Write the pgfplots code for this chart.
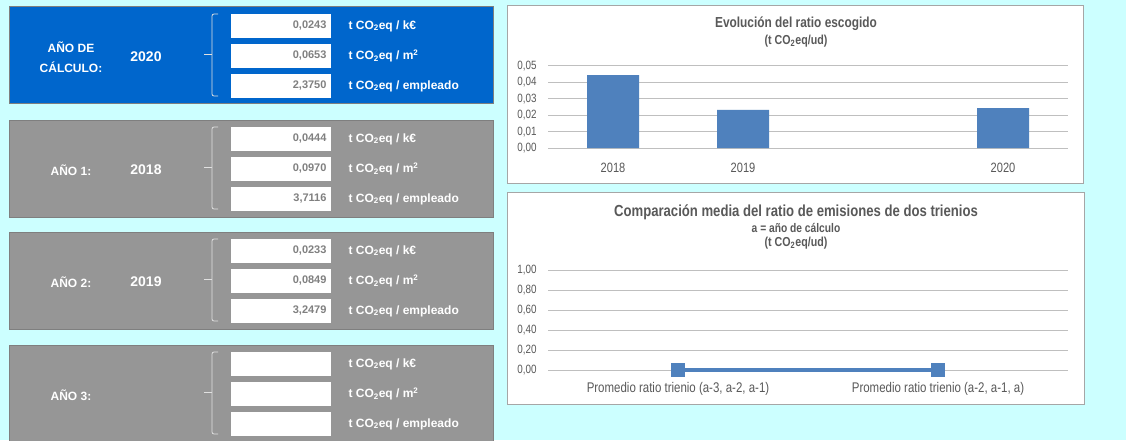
\documentclass[border=0pt]{standalone}
\usepackage{fontspec}
\setmainfont{Liberation Sans}
\newfontfamily\narrow{Liberation Sans}[FakeStretch=0.82]
\usepackage{pgfplots}
\pgfplotsset{compat=1.18}
\definecolor{bgc}{HTML}{CCFFFF}
\definecolor{bluep}{HTML}{0066CC}
\definecolor{grayp}{HTML}{969696}
\definecolor{pborder}{HTML}{7F7F7F}
\definecolor{numc}{HTML}{808080}
\definecolor{txtc}{HTML}{595959}
\definecolor{gridc}{HTML}{BFBFBF}
\definecolor{cborder}{HTML}{A6A6A6}
\definecolor{barc}{HTML}{4F81BD}
\definecolor{bracec}{HTML}{E0E0E0}
\newcommand{\units}[1]{t CO\textsubscript{2}eq / #1}
% row: y-top, value, unit
\newcommand{\prow}[3]{%
  \fill[white] (231,#1) rectangle (331,{#1+24});
  \node[anchor=east, text=numc, font=\bfseries\fontsize{11}{13}\selectfont] at (330,{#1+12}) {#2};
  \node[anchor=west, text=white, font=\bfseries\fontsize{12}{14}\selectfont] at (345,{#1+12}) {\units{#3}};
}
% panel: top, fill, label, year
\newcommand{\panel}[4]{%
  \fill[#2] (9,#1) rectangle (493,{#1+97});
  \draw[pborder, line width=1pt] (9,#1) rectangle (493,{#1+97});
  \node[text=white, font=\bfseries\fontsize{12}{20}\selectfont, align=center] at (71,{#1+50}) {#3};
  \node[text=white, font=\bfseries\fontsize{14}{16}\selectfont] at (146,{#1+50}) {#4};
  \draw[bracec, line width=0.8pt, rounded corners=2pt] (218,{#1+7}) -- (212,{#1+7}) -- (212,{#1+89}) -- (218,{#1+89});
  \draw[bracec, line width=0.8pt] (204,{#1+47}) -- (212,{#1+47});
}
\begin{document}
\begin{tikzpicture}
\begin{scope}[x=1pt, y=-1pt, shift={(0pt,440pt)}]
  \fill[bgc] (0,0) rectangle (1126,440);
  \panel{7}{bluep}{AÑO DE\\CÁLCULO:}{2020}
  \prow{14}{0,0243}{k€}
  \prow{44}{0,0653}{m\textsuperscript{2}}
  \prow{74}{2,3750}{empleado}
  \panel{120}{grayp}{AÑO 1:}{2018}
  \prow{127}{0,0444}{k€}
  \prow{157}{0,0970}{m\textsuperscript{2}}
  \prow{187}{3,7116}{empleado}
  \panel{232}{grayp}{AÑO 2:}{2019}
  \prow{239}{0,0233}{k€}
  \prow{269}{0,0849}{m\textsuperscript{2}}
  \prow{299}{3,2479}{empleado}
  \panel{345}{grayp}{AÑO 3:}{}
  \prow{352}{}{k€}
  \prow{382}{}{m\textsuperscript{2}}
  \prow{412}{}{empleado}
  \fill[white] (507,6) rectangle (1083,183);
  \draw[cborder, line width=1pt] (507,6) rectangle (1083,183);
  \fill[white] (507,192) rectangle (1084,404);
  \draw[cborder, line width=1pt] (507,192) rectangle (1084,404);
  \node[text=txtc, font=\narrow\bfseries\fontsize{14.5}{16}\selectfont] at (796,24) {Evolución del ratio escogido};
  \node[text=txtc, font=\narrow\bfseries\fontsize{13}{15}\selectfont] at (796,41) {(t CO\textsubscript{2}eq/ud)};
  \node[text=txtc, font=\narrow\bfseries\fontsize{16}{18}\selectfont] at (796,212) {Comparación media del ratio de emisiones de dos trienios};
  \node[text=txtc, font=\narrow\bfseries\fontsize{12.5}{14}\selectfont] at (796,228) {a = año de cálculo};
  \node[text=txtc, font=\narrow\bfseries\fontsize{13}{15}\selectfont] at (796,243) {(t CO\textsubscript{2}eq/ud)};
\end{scope}
\pgfplotsset{
  dash/.style={scale only axis, anchor=south west, width=520pt,
    axis line style={draw=none}, major tick length=0pt,
    ymajorgrids, grid style={color=gridc, line width=1pt},
    tick label style={text=txtc},
    ticklabel style={font=\narrow\fontsize{12}{14}\selectfont},
    yticklabel style={xshift=-8pt},
    scaled y ticks=false,
    clip=false},
}
\begin{axis}[dash, at={(548pt,292pt)}, height=82pt,
  xmin=-0.5, xmax=3.5, ymin=0, ymax=0.05,
  ytick={0,0.01,0.02,0.03,0.04,0.05},
  yticklabel={\pgfmathprintnumber[fixed,fixed zerofill,precision=2,use comma,assume math mode=true]{\tick}},
  xtick={0,1,2,3}, xticklabels={2018,2019,{},2020},
  xticklabel style={yshift=-12pt, font=\narrow\fontsize{13.5}{15}\selectfont}]
\addplot[ybar, bar width=52pt, fill=barc, draw=none] coordinates {(0,0.0444) (1,0.0233) (3,0.0243)};
\end{axis}
\begin{axis}[dash, at={(548pt,70pt)}, height=100pt,
  xmin=-0.5, xmax=1.5, ymin=0, ymax=1,
  ytick={0,0.2,0.4,0.6,0.8,1},
  yticklabel={\pgfmathprintnumber[fixed,fixed zerofill,precision=2,use comma,assume math mode=true]{\tick}},
  xtick={0,1}, xticklabels={{Promedio ratio trienio (a-3, a-2, a-1)},{Promedio ratio trienio (a-2, a-1, a)}},
  xticklabel style={yshift=-9pt, font=\narrow\fontsize{14}{16}\selectfont}]
\addplot[color=barc, line width=3.5pt, mark=square*, mark size=5pt] coordinates {(0,0) (1,0)};
\end{axis}
\pgfresetboundingbox
\path[use as bounding box] (0,0) rectangle (1126pt,440pt);
\end{tikzpicture}
\end{document}
